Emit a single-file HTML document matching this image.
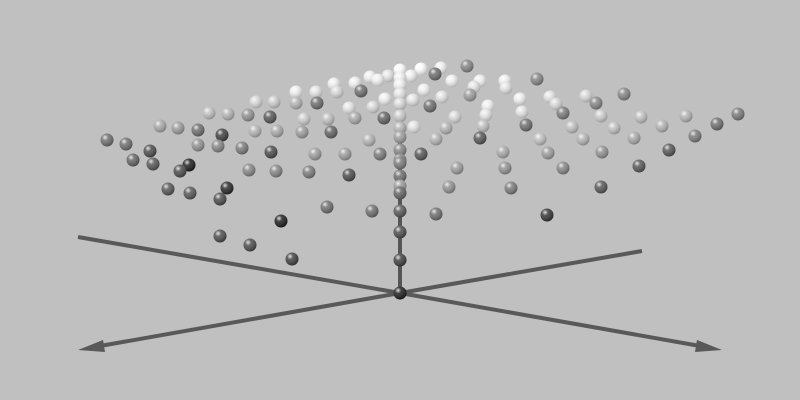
<!DOCTYPE html>
<html><head><meta charset="utf-8"><style>html,body{margin:0;padding:0;background:#c0c0c0;}svg{display:block}</style></head>
<body>
<svg id="chart" width="800" height="400" viewBox="0 0 800 400" xmlns="http://www.w3.org/2000/svg">
<defs>
<radialGradient id="hl" cx="0.35" cy="0.3" r="0.7">
<stop offset="0" stop-color="#fff" stop-opacity="0.85"/>
<stop offset="0.35" stop-color="#fff" stop-opacity="0.15"/>
<stop offset="1" stop-color="#000" stop-opacity="0.25"/>
</radialGradient>
</defs>
<rect width="800" height="400" fill="#c0c0c0"/>
<g id="axes">
<line x1="78" y1="237" x2="400" y2="293" stroke="#595959" stroke-width="4"/>
<line x1="400" y1="293" x2="642" y2="251" stroke="#595959" stroke-width="4"/>
<line x1="400" y1="293" x2="700" y2="346" stroke="#595959" stroke-width="4"/>
<polygon points="722,350 697,340 695,352" fill="#595959"/>
<line x1="400" y1="293" x2="100" y2="346" stroke="#595959" stroke-width="4"/>
<polygon points="78,350 103,340 105,352" fill="#595959"/>
<line x1="400" y1="293" x2="400" y2="100" stroke="#555" stroke-width="4"/>
</g>
<g id="points"></g>
</svg>
<script>
// data in chart units: u = horizontal offset, v = height above origin, shade = value (0 dark..1 light)
const pxs = [400,400,400,400,400,400,400,400,400,400,400,400,400,400,400,400,400,
107,126,150,133,153,189,180,160,178,198,222,168,190,227,220,281,220,250,292,198,218,242,271,249,276,309,349,327,372,209,228,248,270,255,277,302,331,315,345,380,256,274,296,317,304,328,355,384,369,296,316,337,361,349,373,334,355,370,388,378,385,411,421,441,467,435,424,442,470,413,430,452,480,505,537,474,506,488,520,550,586,624,486,522,556,596,455,446,414,483,526,563,601,641,686,738,436,480,540,572,583,614,634,662,717,695,669,421,457,503,548,602,639,449,505,563,511,601,436,547,400];
const pys = [293,260,232,211,193,186,176,163,150,137,128,116,104,94,85,78,70,
140,144,151,160,164,165,171,126,128,130,135,189,193,188,199,221,236,245,259,145,146,148,152,170,171,172,175,207,211,113,114,115,117,131,131,132,132,154,154,154,102,102,103,103,119,119,118,118,140,92,92,92,91,108,107,84,83,77,76,80,99,76,69,68,66,74,90,97,95,100,106,81,81,81,79,87,88,106,99,97,96,94,115,112,104,103,117,128,127,126,125,113,116,117,116,114,139,138,139,127,139,128,138,126,124,136,150,154,168,152,153,152,166,187,168,168,188,187,214,215,160];
const shades = [.05,.2,.25,.3,.35,.6,.4,.45,.5,.6,.7,.8,.85,.9,.95,.95,1,
.4,.4,.25,.35,.3,.05,.25,.65,.6,.4,.2,.3,.3,.1,.25,.05,.25,.25,.2,.55,.5,.45,.25,.5,.5,.45,.25,.4,.4,.75,.7,.55,.3,.7,.65,.6,.35,.6,.6,.45,.85,.8,.7,.4,.8,.75,.65,.35,.7,.95,.9,.85,.4,.9,.85,.95,.95,.95,.9,.95,.95,.95,1,.95,.5,.4,.95,.9,.6,.9,.4,.95,.95,.95,.5,.9,.9,.95,.95,.9,.85,.5,.9,.9,.85,.5,.85,.7,.9,.75,.4,.45,.8,.75,.7,.45,.7,.3,.75,.75,.7,.75,.65,.7,.4,.45,.3,.3,.6,.65,.6,.55,.3,.55,.55,.5,.45,.3,.4,.15,.5];
const us = pxs.map(p => (p - 400) / 20);
const vs = pys.map(p => (293 - p) / 10);
function xScale(u){ return 400 + u * 20; }
function yScale(v){ return 293 - v * 10; }
function shadeColor(s){ const c = Math.round(20 + s * 230); return `rgb(${c},${c},${c})`; }
const g = document.getElementById('points');
const NS = 'http://www.w3.org/2000/svg';
const order = us.map((_, i) => i).sort((a, b) => vs[b] - vs[a]);
order.forEach(i => {
  const cx = xScale(us[i]), cy = yScale(vs[i]);
  const grp = document.createElementNS(NS, 'g');
  
  
  const c = document.createElementNS(NS, 'circle');
  c.setAttribute('cx', cx); c.setAttribute('cy', cy); c.setAttribute('r', 6.5);
  c.setAttribute('fill', shadeColor(shades[i]));
  const h = document.createElementNS(NS, 'circle');
  h.setAttribute('cx', cx); h.setAttribute('cy', cy); h.setAttribute('r', 6.5);
  h.setAttribute('fill', 'url(#hl)');
  grp.appendChild(c); grp.appendChild(h);
  g.appendChild(grp);
});
</script>
</body></html>
